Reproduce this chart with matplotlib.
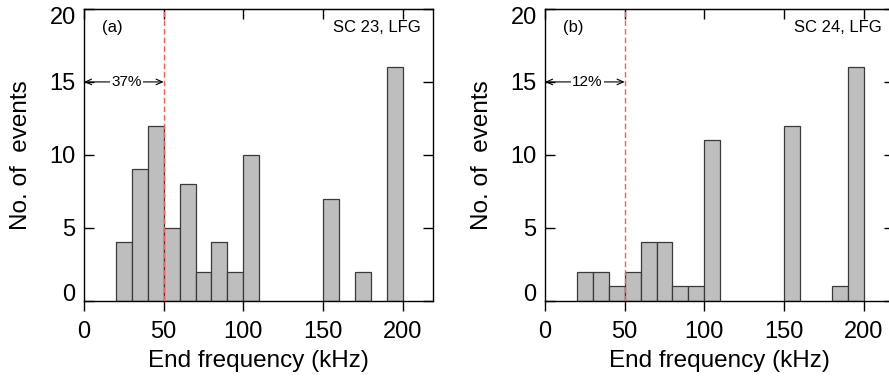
import numpy as np
import matplotlib
matplotlib.use('Agg')
import matplotlib.pyplot as plt
import matplotlib.transforms as mtransforms

plt.rcParams['font.family'] = ['Liberation Sans', 'DejaVu Sans']

# histogram data (bin left edge in kHz, bin width 10 kHz)
bins_a = [20, 30, 40, 50, 60, 70, 80, 90, 100, 150, 170, 190]
counts_a = [4, 9, 12, 5, 8, 2, 4, 2, 10, 7, 2, 16]
bins_b = [20, 30, 40, 50, 60, 70, 80, 90, 100, 150, 180, 190]
counts_b = [2, 2, 1, 2, 4, 4, 1, 1, 11, 12, 1, 16]

panels = [
    dict(bins=bins_a, counts=counts_a, tag='(a)', name='SC 23, LFG', pct='37%'),
    dict(bins=bins_b, counts=counts_b, tag='(b)', name='SC 24, LFG', pct='12%'),
]
xticks = [0, 50, 100, 150, 200]
yticks = [0, 5, 10, 15, 20]
cutoff = 50

fig = plt.figure(figsize=(8.89, 3.78), dpi=100)
lefts = [84 / 889, 545 / 889]

for p, left in zip(panels, lefts):
    ax = fig.add_axes([left, 77.3 / 378, 349 / 889, 291.7 / 378])
    ax.bar(p['bins'], p['counts'], width=10, align='edge',
           color='#bebebe', edgecolor='#3a3a3a', linewidth=0.9, zorder=2)
    ax.axvline(cutoff, color='#ff5a5a', linestyle=(0, (4, 2.2)), linewidth=1.0, zorder=3)

    ax.annotate('', xy=(0, 15), xytext=(cutoff, 15),
                arrowprops=dict(arrowstyle='<->,head_length=0.45,head_width=0.2',
                                color='black', lw=0.8, shrinkA=0, shrinkB=0), zorder=4)
    ax.text(26.5, 15, p['pct'], fontsize=11, ha='center', va='center', zorder=5,
            bbox=dict(facecolor='white', edgecolor='none', pad=1.0))

    ax.text(0.052, 0.938, p['tag'], transform=ax.transAxes, fontsize=12,
            ha='left', va='center')
    ax.text(0.965, 0.938, p['name'], transform=ax.transAxes, fontsize=12,
            ha='right', va='center')

    ax.set_xlim(0, 219)
    ax.set_ylim(0, 20)
    ax.set_xticks(xticks)
    ax.set_yticks(yticks)
    ax.tick_params(axis='x', direction='out', length=7, width=1, labelsize=17, pad=7.5)
    ax.tick_params(axis='y', direction='in', length=7, width=1, labelsize=17, pad=6,
                   left=True, right=True)
    # end labels sit a little inside the axis range, as in the original
    ticks = ax.yaxis.get_major_ticks()
    for t, dy in ((ticks[0], 6), (ticks[-1], -5)):
        off = mtransforms.ScaledTranslation(0, dy / 72, fig.dpi_scale_trans)
        t.label1.set_transform(t.label1.get_transform() + off)
    top = ax.secondary_xaxis('top')
    top.set_xticks(xticks)
    top.tick_params(direction='in', length=7, width=1, labeltop=False)
    for s in ax.spines.values():
        s.set_linewidth(1.0)

    ax.set_xlabel('End frequency (kHz)', fontsize=17.5, labelpad=5)
    ax.set_ylabel('No. of  events', fontsize=17.5)
    ax.yaxis.set_label_coords(-0.15, 0.5)

fig.savefig('out.png', dpi=100)
